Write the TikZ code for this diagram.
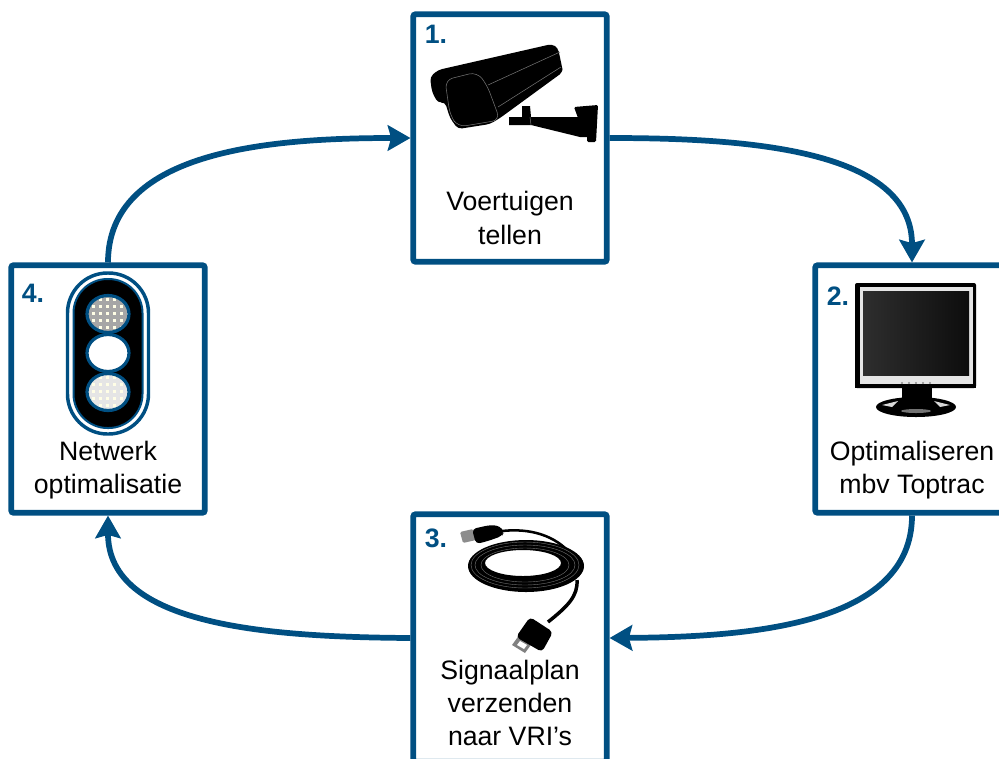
\documentclass[tikz,border=0pt]{standalone}
\usepackage{fontspec}
\setmainfont{Liberation Sans}
\usetikzlibrary{arrows.meta}
\definecolor{flowblue}{RGB}{0,79,130}
\begin{document}
\begin{tikzpicture}[
x=0.75pt, y=-0.75pt,
stepbox/.style={rectangle, draw=flowblue, line width=4.3pt, rounded corners=1.5pt, minimum width=145pt, minimum height=185.5pt},
flow/.style={draw=flowblue, line width=4.3pt, -{Stealth[length=17pt, width=19pt, inset=2.5pt]}},
number/.style={text=flowblue, font=\fontsize{20pt}{22pt}\selectfont\bfseries, inner sep=0pt},
caption/.style={align=center, inner sep=0pt, font=\fontsize{20pt}{24.9pt}\selectfont},
hairline/.style={draw=black!55!white, line width=0.4pt},
lampring/.style={draw=flowblue, line width=2.4pt},
wire/.style={draw=black, line width=1.9pt},
]
\path[use as bounding box, clip] (0,0) rectangle (999,758);
\node[stepbox] (count) at (510,138) {};
\node[stepbox] (optim) at (912,389) {};
\node[stepbox] (send) at (510,638) {};
\node[stepbox] (network) at (108,389) {};
\draw[flow] (count.east) .. controls (750,138) and (912,150) .. (optim.north);
\draw[flow] (optim.south) .. controls (912,625) and (750,637) .. (send.east);
\draw[flow] (send.west) .. controls (265,637) and (108,625) .. (network.south);
\draw[flow] (network.north) .. controls (108,152) and (265,138) .. (count.west);
\node[number] (n1) at (436,34) {1.};
\node[number] (n2) at (838,296) {2.};
\node[number] (n3) at (436,538) {3.};
\node[number] (n4) at (33,293) {4.};
\node[caption] (t1) at (510,218) {Voertuigen\\tellen};
\node[caption] (t2) at (912,470) {Optimaliseren\\mbv Toptrac};
\node[caption] (t3) at (510,703) {Signaalplan\\verzenden\\naar VRI’s};
\node[caption] (t4) at (108,470) {Netwerk\\optimalisatie};
% camera
\fill[rounded corners=3pt] (430,77) -- (438,70) -- (552,44) -- (558,48) -- (562,67) -- (563,72)
  -- (500,118) -- (490,124) -- (458,129) -- (450,118) -- (445,102) -- (438,103) -- (432,92) -- cycle;
\draw[hairline, rounded corners=6pt] (445,80) -- (477,72) -- (487,85) -- (500,120) -- (458,127) -- (450,115) -- cycle;
\draw[hairline] (488,85) -- (560,52) (498,107) -- (561,67);
\fill (522,106) -- (530,106) -- (531,117) -- (522,117) -- cycle;
\fill (509,117) -- (588,117) -- (588,137) -- (580,137) -- (531,125) -- (509,125) -- cycle;
\fill[rounded corners=1pt] (574,107) -- (598,105) -- (596,142) -- (587,142) -- (588,118) -- (578,118) -- cycle;
\draw[hairline] (530,117) -- (531,125);
% monitor
\fill[rounded corners=1.5pt] (855,283) rectangle (976,388);
\fill[black!10] (860,287) rectangle (973,384);
\shade[left color=black!82, right color=black!95] (863,291) rectangle (969,375);
\fill (855,384) rectangle (976,388);
\fill (902,386) rectangle (932,405);
\fill (916,407) ellipse [x radius=40, y radius=10];
\fill[white!85!black] (882,405) -- (898,401) -- (892,407) -- cycle;
\fill[white!85!black] (950,405) -- (934,401) -- (940,407) -- cycle;
\fill[black!55] (916,411) ellipse [x radius=15, y radius=2];
\foreach \i in {0,...,4}
  \fill[black!45] (902+7*\i,383) circle [radius=1.2];
% cable
\fill[black!45, rounded corners=1pt] (460,532) -- (473,529) -- (476,540) -- (463,543) -- cycle;
\fill[rounded corners=3pt] (472,529) -- (490,525) -- (500,526) -- (504,532) -- (502,536) -- (488,541) -- (476,544) -- cycle;
\draw[wire] (502,531) .. controls (530,528) and (555,535) .. (572,555);
\fill[even odd rule] (526,566) ellipse [x radius=58, y radius=26]
  (523,563) ellipse [x radius=38, y radius=13];
\foreach \rx/\ry in {44/17,50/20,54/23}
  \draw[hairline, line width=0.3pt] (525,565) ellipse [x radius=\rx, y radius=\ry];
\draw[wire, line width=2.6pt] (577,580) .. controls (578,596) and (568,606) .. (548,622);
\fill[black!50] (512,645) -- (520,634) -- (533,642) -- (525,653) -- cycle;
\fill[white] (517,645) -- (520,641) -- (527,645) -- (524,649) -- cycle;
\fill[rounded corners=3pt] (530,617) -- (553,632) -- (542,652) -- (516,637) -- cycle;
% traffic light
\draw[flowblue, line width=2.6pt, rounded corners=30pt] (67.5,273) rectangle (148.5,434);
\fill[rounded corners=25.5pt, draw=flowblue, line width=1.5pt] (73.5,279) rectangle (142.5,428);
\fill[black!35] (108,314) ellipse [x radius=21, y radius=18.5];
\begin{scope}
\clip (108,314) ellipse [x radius=21, y radius=18.5];
\foreach \i in {-3,...,3} \foreach \j in {-3,...,3}
  \fill[white!90!yellow] (108+7*\i-2,314+7*\j-2) rectangle +(3,3);
\end{scope}
\draw[lampring] (108,314) ellipse [x radius=21, y radius=18.5];
\draw[lampring, fill=white] (108,353) ellipse [x radius=21, y radius=18.5];
\fill[black!10] (108,392) ellipse [x radius=21, y radius=18.5];
\begin{scope}
\clip (108,392) ellipse [x radius=21, y radius=18.5];
\foreach \i in {-3,...,3} \foreach \j in {-3,...,3}
  \fill[white!90!yellow] (108+7*\i-2,392+7*\j-2) rectangle +(3,3);
\end{scope}
\draw[lampring] (108,392) ellipse [x radius=21, y radius=18.5];
\end{tikzpicture}
\end{document}
